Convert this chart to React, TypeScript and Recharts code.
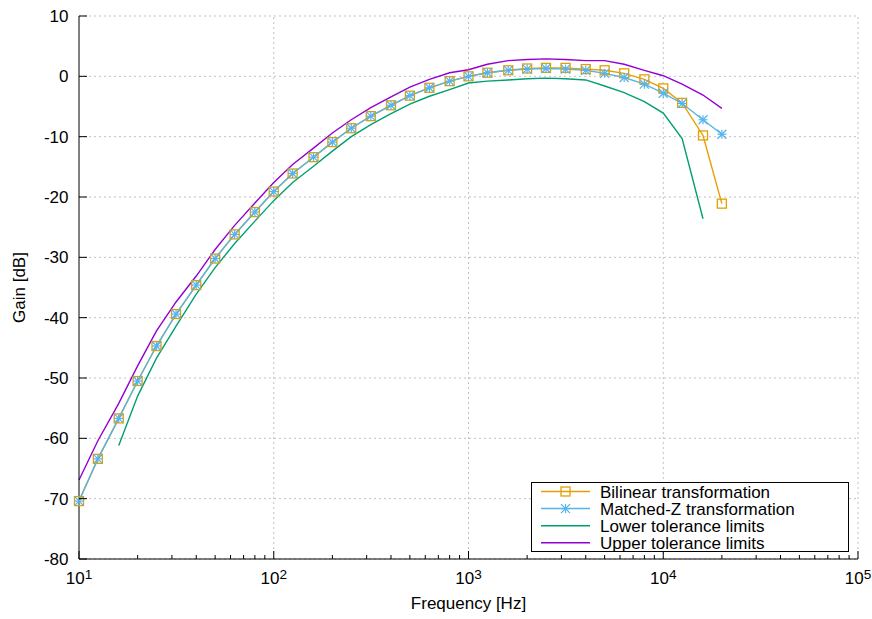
import { CartesianGrid, Line, LineChart, ReferenceLine, XAxis, YAxis } from "recharts"

const freqs = [
  10, 12.5, 16, 20, 25, 31.5, 40, 50, 63, 80, 100, 125, 160, 200, 250, 315, 400, 500, 630, 800, 1000, 1250, 1600,
  2000, 2500, 3150, 4000, 5000, 6300, 8000, 10000, 12500, 16000, 20000,
]

const bilinear = [
  -70.4, -63.4, -56.7, -50.5, -44.7, -39.4, -34.6, -30.2, -26.2, -22.5, -19.1, -16.1, -13.4, -10.9, -8.6, -6.6, -4.8,
  -3.2, -1.9, -0.8, 0.0, 0.6, 1.0, 1.3, 1.4, 1.4, 1.2, 1.0, 0.5, -0.5, -2.0, -4.4, -9.8, -21.1,
]

const matchedZ = [
  -70.4, -63.4, -56.7, -50.5, -44.7, -39.4, -34.6, -30.2, -26.2, -22.5, -19.1, -16.1, -13.4, -10.9, -8.6, -6.6, -4.8,
  -3.2, -1.9, -0.8, 0.0, 0.6, 1.0, 1.2, 1.3, 1.2, 1.0, 0.5, -0.2, -1.3, -2.8, -4.5, -7.2, -9.6,
]

const lowerLimit = [
  null, null, -61.2, -53.0, -46.7, -41.4, -36.1, -31.7, -27.7, -24.0, -20.6, -17.6, -14.9, -12.4, -10.0, -8.0, -6.2,
  -4.6, -3.3, -2.2, -1.1, -0.8, -0.6, -0.4, -0.3, -0.4, -0.6, -1.6, -2.7, -4.2, -6.1, -10.3, -23.6, null,
]

const upperLimit = [
  -66.9, -60.4, -54.2, -48.0, -42.2, -37.4, -33.1, -28.7, -24.7, -21.0, -17.6, -14.6, -11.9, -9.4, -7.2, -5.2, -3.4,
  -1.8, -0.5, 0.6, 1.1, 2.0, 2.6, 2.8, 2.9, 2.8, 2.6, 2.6, 2.0, 1.0, 0.1, -1.3, -3.1, -5.3,
]

const majorTicks = [10, 100, 1000, 10000, 100000]
const minorTicks = [
  20, 30, 40, 50, 60, 70, 80, 90, 200, 300, 400, 500, 600, 700, 800, 900, 2000, 3000, 4000, 5000, 6000, 7000, 8000,
  9000, 20000, 30000, 40000, 50000, 60000, 70000, 80000, 90000,
]
const yTicks = [-80, -70, -60, -50, -40, -30, -20, -10, 0, 10]

const legendNames = ["Bilinear transformation", "Matched-Z transformation", "Lower tolerance limits", "Upper tolerance limits"]

const ORANGE = "#e69f00"
const BLUE = "#56b4e9"
const GREEN = "#009e73"
const PURPLE = "#9400d3"
const GRID = "#c0c0c0"
const FONT = "'Liberation Sans', Arial, Helvetica, sans-serif"

const rows = freqs.map((f, i) => ({
  f,
  bil: bilinear[i],
  mz: matchedZ[i],
  lo: lowerLimit[i],
  hi: upperLimit[i],
}))

const xTicks = [...majorTicks, ...minorTicks].sort((a, b) => a - b)

function SquareMark({ cx, cy }: { cx: number; cy: number }) {
  return <rect x={cx - 4.5} y={cy - 4.5} width={9} height={9} fill="none" stroke={ORANGE} strokeWidth={1.3} />
}

function StarMark({ cx, cy }: { cx: number; cy: number }) {
  const s = 4.5
  return (
    <g stroke={BLUE} strokeWidth={1.2}>
      <line x1={cx - s} x2={cx + s} y1={cy} y2={cy} />
      <line x1={cx} x2={cx} y1={cy - s} y2={cy + s} />
      <line x1={cx - s} x2={cx + s} y1={cy - s} y2={cy + s} />
      <line x1={cx - s} x2={cx + s} y1={cy + s} y2={cy - s} />
    </g>
  )
}

const squareDot = (p: any) => {
  if (p.cy == null) return <g key={p.key ?? p.index} />
  return (
    <g key={p.key ?? p.index}>
      <SquareMark cx={p.cx} cy={p.cy} />
    </g>
  )
}

const starDot = (p: any) => {
  if (p.cy == null) return <g key={p.key ?? p.index} />
  return (
    <g key={p.key ?? p.index}>
      <StarMark cx={p.cx} cy={p.cy} />
    </g>
  )
}

function XTick(props: any) {
  const { x, y, payload } = props
  const v = payload.value
  const exp = Math.round(Math.log10(v))
  const major = Math.abs(Math.log10(v) - exp) < 1e-6
  return (
    <g>
      <line x1={x} x2={x} y1={y} y2={y - (major ? 8 : 4)} stroke="#000" strokeWidth={1} />
      {major && (
        <text x={x} y={y + 24.5} textAnchor="middle" fontSize={17} fontFamily={FONT} fill="#000">
          10
          <tspan dy={-5} fontSize={13.6}>
            {exp}
          </tspan>
        </text>
      )}
    </g>
  )
}

function YTick(props: any) {
  const { x, y, payload } = props
  return (
    <g>
      <line x1={x} x2={x + 8} y1={y} y2={y} stroke="#000" strokeWidth={1} />
      <text x={x - 10.5} y={y + 6} textAnchor="end" fontSize={17} fontFamily={FONT} fill="#000">
        {payload.value}
      </text>
    </g>
  )
}

function LegendBox() {
  const colors = [ORANGE, BLUE, GREEN, PURPLE]
  return (
    <svg width={872} height={619} style={{ position: "absolute", left: 0, top: 0, pointerEvents: "none" }}>
      <rect x={531.5} y={482.5} width={317} height={69} fill="#fff" stroke="#000" strokeWidth={1} />
      {legendNames.map((name, i) => {
        const cy = 491.5 + i * 17.1
        return (
          <g key={name}>
            <line x1={541} x2={590} y1={cy} y2={cy} stroke={colors[i]} strokeWidth={1.5} />
            {i === 0 && <SquareMark cx={565.5} cy={cy} />}
            {i === 1 && <StarMark cx={565.5} cy={cy} />}
            <text x={600} y={cy + 6.5} fontSize={17} fontFamily={FONT} fill="#000">
              {name}
            </text>
          </g>
        )
      })}
    </svg>
  )
}

export default function App() {
  return (
    <div style={{ position: "absolute", left: 0, top: 0, width: 872, height: 619, background: "#fff" }}>
      <LineChart width={872} height={619} data={rows} margin={{ top: 16, right: 14, left: 0, bottom: 0 }}>
        <CartesianGrid vertical={false} stroke={GRID} strokeDasharray="2 3" />
        {majorTicks.slice(1).map((t) => (
          <ReferenceLine key={t} x={t} stroke={GRID} strokeDasharray="2 3" />
        ))}
        <XAxis
          dataKey="f"
          type="number"
          scale="log"
          domain={[10, 100000]}
          ticks={xTicks}
          interval={0}
          tickSize={0}
          tickMargin={0}
          height={60}
          axisLine={{ stroke: "#000", strokeWidth: 1 }}
          tickLine={false}
          tick={<XTick />}
        />
        <YAxis
          type="number"
          domain={[-80, 10]}
          ticks={yTicks}
          interval={0}
          tickSize={0}
          tickMargin={0}
          width={79}
          axisLine={{ stroke: "#000", strokeWidth: 1 }}
          tickLine={false}
          tick={<YTick />}
        />
        <Line
          dataKey="bil"
          stroke={ORANGE}
          strokeWidth={1.4}
          type="linear"
          dot={squareDot}
          isAnimationActive={false}
        />
        <Line dataKey="mz" stroke={BLUE} strokeWidth={1.4} type="linear" dot={starDot} isAnimationActive={false} />
        <Line dataKey="lo" stroke={GREEN} strokeWidth={1.4} type="linear" dot={false} isAnimationActive={false} />
        <Line dataKey="hi" stroke={PURPLE} strokeWidth={1.4} type="linear" dot={false} isAnimationActive={false} />
      </LineChart>
      <svg width={872} height={619} style={{ position: "absolute", left: 0, top: 0, pointerEvents: "none" }}>
        <text x={468.5} y={609} textAnchor="middle" fontSize={17} fontFamily={FONT} fill="#000">
          Frequency [Hz]
        </text>
        <text
          x={25}
          y={287.5}
          textAnchor="middle"
          fontSize={17}
          fontFamily={FONT}
          fill="#000"
          transform="rotate(-90, 25, 287.5)"
        >
          Gain [dB]
        </text>
      </svg>
      <LegendBox />
    </div>
  )
}
